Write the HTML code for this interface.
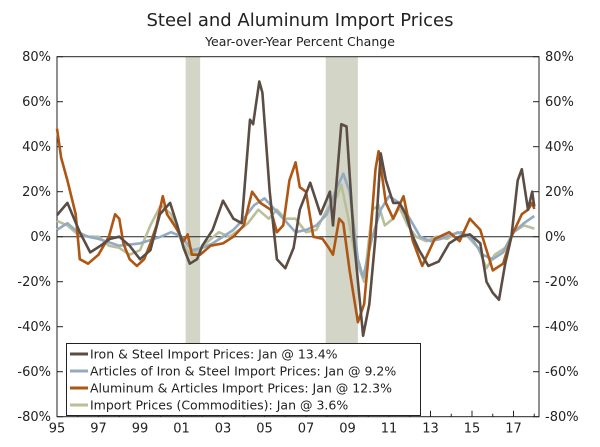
<!DOCTYPE html>
<html><head><meta charset="utf-8"><style>
body{margin:0;background:#fff;}
svg{display:block;font-family:"DejaVu Sans","Liberation Sans",sans-serif;}
</style></head><body>
<svg id="chart" width="600" height="447" viewBox="0 0 600 447">
<text x="300" y="26" text-anchor="middle" font-size="18" fill="#222">Steel and Aluminum Import Prices</text>
<text x="300" y="46" text-anchor="middle" font-size="12.5" fill="#222">Year-over-Year Percent Change</text>
<g id="rec"></g><g id="axes"></g><g id="series"></g><g id="legend"></g>
</svg>
<script>
const recessions=[[2001.2,2001.9],[2007.95,2009.5]];
const yTicks=[80,60,40,20,0,-20,-40,-60,-80];
const xTickYears=[1995,1997,1999,2001,2003,2005,2007,2009,2011,2013,2015,2017];
const xTickLabels=["95","97","99","01","03","05","07","09","11","13","15","17"];
const ironDates=[1995,1995.5,1996.1,1996.6,1997.1,1997.55,1998,1998.5,1999,1999.5,1999.96,2000.45,2000.8,2001.1,2001.4,2001.75,2002,2002.5,2003,2003.5,2003.9,2004.3,2004.45,2004.75,2004.9,2005.25,2005.6,2006,2006.4,2006.7,2007.2,2007.7,2008.15,2008.3,2008.7,2008.95,2009.3,2009.75,2010.05,2010.35,2010.6,2010.85,2011.2,2011.5,2011.8,2012.15,2012.45,2012.9,2013.4,2013.9,2014.4,2014.9,2015.4,2015.7,2016,2016.3,2016.6,2016.9,2017.2,2017.4,2017.7,2017.9,2018];
const ironVals=[9.6,15,2,-7,-4,-1,0,-4,-10,-6,10,15,5,-5,-12,-10,-4,3,16,8,6,52,50,69,64,20,-10,-14,-5,12,24,10,20,5,50,49,0,-44,-30,0,37,25,15,15,10,0,-6,-13,-11,-3,0,1,-3,-20,-25,-28,-12,0,25,30,12,20,13.4];
const artDates=[1995,1995.5,1996,1996.5,1997,1998,1999,2000,2000.5,2001,2001.5,2002,2002.5,2003,2003.5,2004,2004.5,2005,2005.5,2006,2006.5,2007,2007.5,2008,2008.5,2008.8,2009.1,2009.5,2009.75,2010.2,2010.6,2011,2011.5,2012,2012.5,2013,2013.5,2014,2014.5,2015,2015.5,2016,2016.5,2017,2017.5,2018];
const artVals=[3,6,2,0,-1,-4,-3,0,2,0,-6,-5,-3,0,3,8,14,17,12,7,2,3,5,10,22,28,20,-10,-18,0,12,18,15,8,0,-2,-1,1,2,-1,-8,-10,-7,2,6,9.2];
const aluDates=[1995,1995.2,1995.5,1995.9,1996.1,1996.5,1997,1997.5,1997.8,1998,1998.2,1998.5,1998.85,1999.2,1999.5,1999.8,2000.1,2000.3,2000.8,2001.1,2001.3,2001.5,2001.9,2002.4,2003,2003.5,2004,2004.4,2004.8,2005.3,2005.6,2005.9,2006.2,2006.5,2006.7,2007,2007.35,2007.8,2008.1,2008.3,2008.6,2008.8,2009.1,2009.5,2009.8,2010.1,2010.35,2010.5,2010.85,2011.2,2011.7,2012.15,2012.6,2013.2,2013.9,2014.4,2014.9,2015.4,2016,2016.5,2016.9,2017.4,2017.7,2017.9,2018];
const aluVals=[48,35,25,10,-10,-12,-8,0,10,8,-3,-10,-13,-10,-3,5,18,10,3,-2,1,-8,-8,-4,-3,0,5,20,15,12,2,5,25,33,22,20,0,-1,-5,-8,8,6,-15,-38,-30,0,30,38,15,8,18,-2,-13,-1,2,-2,8,3,-15,-12,0,10,12,15,12.3];
const comDates=[1995,1995.5,1996,1996.5,1997,1997.5,1998,1998.5,1999,1999.5,2000,2000.5,2001,2001.4,2001.8,2002.3,2002.8,2003.3,2003.8,2004.2,2004.7,2005.2,2005.6,2006,2006.5,2007,2007.5,2008,2008.5,2008.7,2009,2009.4,2009.8,2010.2,2010.5,2010.8,2011.2,2011.5,2011.9,2012.3,2012.8,2013.3,2013.8,2014.3,2014.8,2015.3,2015.7,2016.1,2016.6,2017,2017.5,2018];
const comVals=[7,5,1,0,0,-4,-5,-8,-6,5,14,10,-2,-8,-6,-2,2,0,3,6,12,8,12,8,8,2,3,12,18,23,10,-10,-20,12,14,5,8,13,5,0,-2,0,-1,2,0,-5,-14,-8,-5,2,5,3.6];
const legendLabels=["Iron & Steel Import Prices: Jan @ 13.4%","Articles of Iron & Steel Import Prices: Jan @ 9.2%","Aluminum & Articles Import Prices: Jan @ 12.3%","Import Prices (Commodities): Jan @ 3.6%"];

const NS="http://www.w3.org/2000/svg";
const L=57,R=539,T=56.7,B=416.7;
const x=d=>L+(d-1995)*20.75;
const y=v=>T+(80-v)*(B-T)/160;
function mk(tag,attrs,parent){const e=document.createElementNS(NS,tag);for(const k in attrs)e.setAttribute(k,attrs[k]);parent.appendChild(e);return e;}
const rec=document.getElementById('rec'),axes=document.getElementById('axes'),ser=document.getElementById('series'),leg=document.getElementById('legend');
recessions.forEach(r=>{const e=mk('rect',{x:x(r[0]),y:T,width:x(r[1])-x(r[0]),height:B-T,fill:'#d3d5c6'},rec);

});
let e=mk('rect',{x:L,y:T,width:R-L,height:B-T,fill:'none',stroke:'#222','stroke-width':1},axes);


e=mk('line',{x1:L,x2:R,y1:y(0),y2:y(0),stroke:'#222','stroke-width':1},axes);


yTicks.forEach(v=>{
 mk('line',{x1:L,x2:L+6,y1:y(v),y2:y(v),stroke:'#222'},axes);
 mk('line',{x1:R-6,x2:R,y1:y(v),y2:y(v),stroke:'#222'},axes);
 let t=mk('text',{x:L-6,y:y(v)+4.5,'text-anchor':'end','font-size':13,fill:'#222'},axes);t.textContent=v+'%';
 
 
 t=mk('text',{x:R+6,y:y(v)+4.5,'text-anchor':'start','font-size':13,fill:'#222'},axes);t.textContent=v+'%';
 
 
});
for(let yr=1995;yr<=2018;yr++){mk('line',{x1:x(yr),x2:x(yr),y1:B,y2:B-(yr%2?6:3),stroke:'#222'},axes);}
xTickYears.forEach((yr,i)=>{const t=mk('text',{x:x(yr),y:B+16,'text-anchor':'middle','font-size':13,fill:'#222'},axes);t.textContent=xTickLabels[i];
 
 });
const series=[[comDates,comVals,'#b9bf9a','commodities-line'],[artDates,artVals,'#92abc3','articles-line'],[aluDates,aluVals,'#ae5613','aluminum-line'],[ironDates,ironVals,'#5b4c44','iron-steel-line']];
series.forEach(s=>{const d=s[0].map((t,i)=>(i?'L':'M')+x(t).toFixed(1)+' '+y(s[1][i]).toFixed(1)).join('');
 const p=mk('path',{d:d,fill:'none',stroke:s[2],'stroke-width':2.6,'stroke-linejoin':'round'},ser);
 
 });
e=mk('rect',{x:66.5,y:343.5,width:354,height:72,fill:'#fff',stroke:'#222'},leg);


const legColors=['#5b4c44','#92abc3','#ae5613','#b9bf9a'];
legendLabels.forEach((lab,i)=>{const yy=354+i*17;
 mk('line',{x1:70,x2:88,y1:yy,y2:yy,stroke:legColors[i],'stroke-width':3},leg);
 const t=mk('text',{x:90,y:yy+4.5,'font-size':12.5,fill:'#222'},leg);t.textContent=lab;
 
 });
</script>
</body></html>
